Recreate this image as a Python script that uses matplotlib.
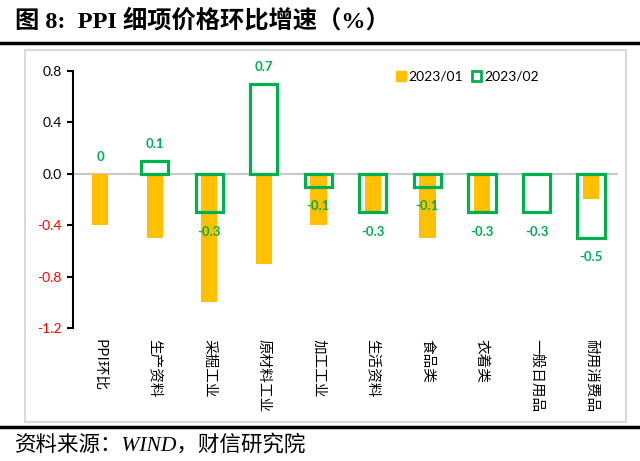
import matplotlib.pyplot as plt
from matplotlib.patches import Patch, Rectangle
from matplotlib.lines import Line2D

plt.rcParams['font.family'] = ['Lato', 'Noto Sans CJK SC', 'DejaVu Sans']

# 数据
categories = ['PPI环比', '生产资料', '采掘工业', '原材料工业', '加工工业',
              '生活资料', '食品类', '衣着类', '一般日用品', '耐用消费品']
jan_2023 = [-0.4, -0.5, -1.0, -0.7, -0.4, -0.3, -0.5, -0.3, 0.0, -0.2]
feb_2023 = [0.0, 0.1, -0.3, 0.7, -0.1, -0.3, -0.1, -0.3, -0.3, -0.5]
yticks = [0.8, 0.4, 0.0, -0.4, -0.8, -1.2]

yellow = '#FFC000'
green = '#00B050'

fig = plt.figure(figsize=(6.4, 4.61), dpi=100)
ax = fig.add_axes([0.114, 0.2885, 0.852, 0.5575])

x = range(len(categories))
ax.bar(x, jan_2023, width=0.3, color=yellow, zorder=2)
# 值为0的柱子不画边框
edges = [green if v != 0 else 'none' for v in feb_2023]
ax.bar(x, feb_2023, width=0.5, facecolor='none', edgecolor=edges, linewidth=2.3, zorder=3)

# 标签
for i, v in enumerate(feb_2023):
    off = 12 if v >= 0 else -14
    ax.annotate(f'{v:g}', (i, v), xytext=(0, off), textcoords='offset points',
                ha='center', va='center', color=green, fontsize=9.5, fontweight='bold', zorder=4)

ax.set_xlim(-0.5, len(categories) - 0.5)
ax.set_ylim(-1.2, 0.8)
ax.set_yticks(yticks)
ax.set_yticklabels([f'{t:.1f}' for t in yticks], fontsize=10)
for lab, t in zip(ax.get_yticklabels(), yticks):
    lab.set_color('red' if t < 0 else 'black')

ax.axhline(0, color='#C8C8C8', lw=1.5, zorder=1)
ax.set_xticks(list(x))
ax.set_xticklabels(categories, rotation=270, fontsize=10.5, va='top', ha='center',
                   family=['Noto Sans CJK SC', 'DejaVu Sans'])
ax.tick_params(axis='x', length=0, pad=8)
ax.tick_params(axis='y', direction='out', length=4, width=1.5, pad=4)

for s in ['top', 'right', 'bottom']:
    ax.spines[s].set_visible(False)
ax.spines['left'].set_linewidth(1.5)

handles = [Patch(facecolor=yellow, edgecolor=yellow),
           Patch(facecolor='white', edgecolor=green, linewidth=2)]
ax.legend(handles, ['2023/01', '2023/02'], loc='upper left', bbox_to_anchor=(0.57, 1.05),
          ncol=2, frameon=False, fontsize=10, handlelength=0.7, handleheight=0.7,
          handletextpad=0.2, columnspacing=0.6)

# 外框与标题
fig.patches.append(Rectangle((25 / 640, 1 - 422 / 461), 601 / 640, 372 / 461,
                             transform=fig.transFigure, fill=False,
                             edgecolor='#D9D9D9', linewidth=1.5, zorder=0))
fig.add_artist(Line2D([0, 1], [1 - 43 / 461] * 2, color='black', lw=2.5))
fig.add_artist(Line2D([0, 1], [1 - 427 / 461] * 2, color='black', lw=2.5))

fig.text(15 / 640, 1 - 21 / 461, '图 8:  PPI 细项价格环比增速（%）', fontsize=17.5, fontweight='bold',
         va='center', ha='left', family=['Liberation Serif', 'Noto Sans CJK SC'])
fig.text(15 / 640, 1 - 445 / 461, '资料来源：WIND，财信研究院', fontsize=15.5, style='italic',
         va='center', ha='left', family=['Liberation Serif', 'Noto Sans CJK SC'])

fig.savefig('out.png', dpi=100)
